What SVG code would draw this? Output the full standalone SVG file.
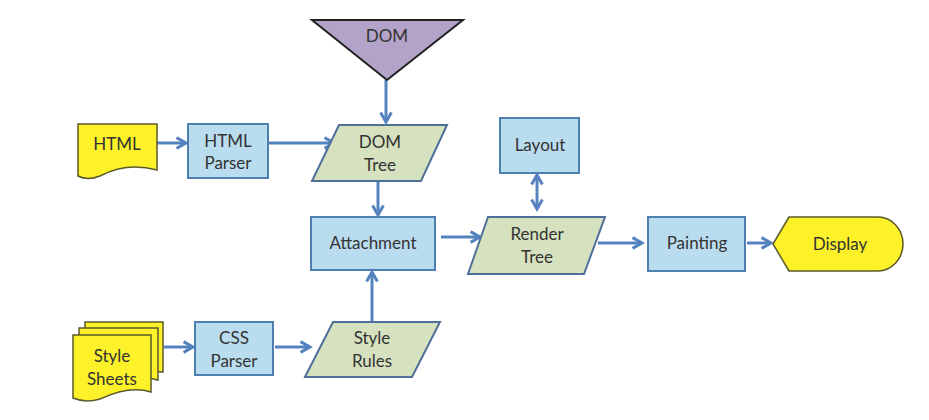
<svg xmlns="http://www.w3.org/2000/svg" width="929" height="420" viewBox="0 0 929 420">
<defs>
<style>
text{font-family:Lato,"Liberation Sans",sans-serif;font-size:17px;fill:#333;text-anchor:middle}
.doc{fill:#fdf22a;stroke:#5a5a2a;stroke-width:1.5}
.box{fill:#badcef;stroke:#4f7fae;stroke-width:2}
.data{fill:#d6e2bf;stroke:#4f6f99;stroke-width:2}
.tri{fill:#b3a3c9;stroke:#222;stroke-width:2}
.disp{fill:#fdf22a;stroke:#5a5a2a;stroke-width:1.5}
.c{stroke:#5482bf;stroke-width:3;fill:none;marker-end:url(#ah)}
</style>
<marker id="ah" viewBox="0 0 10 10" refX="8" refY="5" markerWidth="4.5" markerHeight="4.5" orient="auto-start-reverse" markerUnits="strokeWidth">
<path d="M1,1 L8,5 L1,9" fill="none" stroke="#5482bf" stroke-width="2.2"/>
</marker>
</defs>
<rect width="929" height="420" fill="#fff"/>
<g id="connectors">
<line class="c" x1="157" y1="143" x2="186" y2="143"/>
<line class="c" x1="268" y1="143" x2="334" y2="143"/>
<line class="c" x1="386" y1="80" x2="386" y2="122"/>
<line class="c" x1="378" y1="181" x2="378" y2="215"/>
<line class="c" x1="372" y1="322" x2="372" y2="272"/>
<line class="c" x1="441" y1="237" x2="480" y2="237"/>
<line class="c" x1="537" y1="209" x2="537" y2="175" style="marker-start:url(#ah)"/>
<line class="c" x1="598" y1="243" x2="642" y2="243"/>
<line class="c" x1="747" y1="243" x2="771" y2="243"/>
<line class="c" x1="164" y1="347" x2="193" y2="347"/>
<line class="c" x1="275" y1="347" x2="310" y2="347"/>
</g>
<g id="html">
<path class="doc" d="M78,124 H157 V170 C135,164 115,168 100,176 C90,180 82,178 78,176 Z"/>
<text x="117" y="150">HTML</text>
</g>
<g id="html-parser">
<rect class="box" x="188" y="124" width="80" height="54"/>
<text x="228" y="147">HTML</text>
<text x="228" y="169">Parser</text>
</g>
<g id="dom">
<polygon class="tri" points="312,20 463,20 387,80"/>
<text x="387" y="42">DOM</text>
</g>
<g id="dom-tree">
<polygon class="data" points="339,125 447,125 421,181 312,181"/>
<text x="380" y="148">DOM</text>
<text x="380" y="171">Tree</text>
</g>
<g id="attachment">
<rect class="box" x="311" y="217" width="124" height="53"/>
<text x="373" y="249">Attachment</text>
</g>
<g id="layout">
<rect class="box" x="500" y="118" width="79" height="55"/>
<text x="540" y="151">Layout</text>
</g>
<g id="render-tree">
<polygon class="data" points="488,217 605,217 584,274 468,274"/>
<text x="537" y="240">Render</text>
<text x="537" y="263">Tree</text>
</g>
<g id="painting">
<rect class="box" x="648" y="217" width="97" height="54"/>
<text x="697" y="249">Painting</text>
</g>
<g id="display">
<path class="disp" d="M773,244 L789,217 H878 A25,27 0 0 1 878,271 H789 Z"/>
<text x="840" y="250">Display</text>
</g>
<g id="style-sheets">
<path class="doc" d="M85,322 H163 V372 C150,370 130,374 118,380 L85,380 Z"/>
<path class="doc" d="M79,328 H158 V380 C145,376 125,380 112,386 L79,386 Z"/>
<path class="doc" d="M73,335 H151 V392 C133,386 115,392 100,399 C90,402 80,401 73,398 Z"/>
<text x="112" y="362">Style</text>
<text x="112" y="385">Sheets</text>
</g>
<g id="css-parser">
<rect class="box" x="195" y="322" width="78" height="53"/>
<text x="234" y="344">CSS</text>
<text x="234" y="367">Parser</text>
</g>
<g id="style-rules">
<polygon class="data" points="333,322 440,322 412,377 305,377"/>
<text x="372" y="344">Style</text>
<text x="372" y="367">Rules</text>
</g>
</svg>
